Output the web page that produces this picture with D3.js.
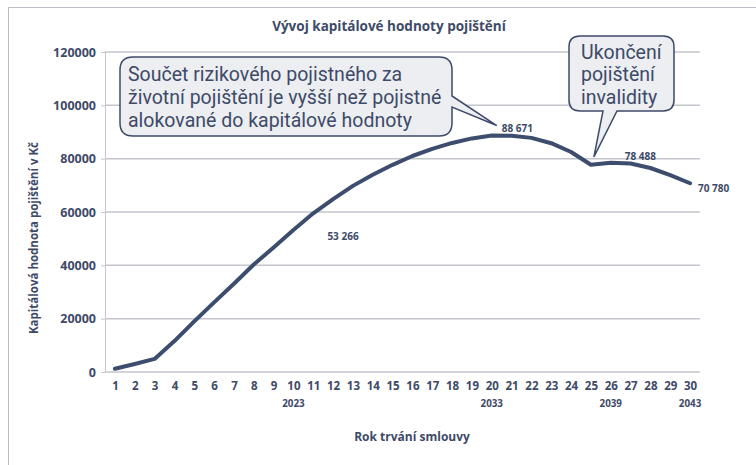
<!DOCTYPE html>
<html><head><meta charset="utf-8">
<script src="https://cdn.jsdelivr.net/npm/d3@7"></script>
<style>
html,body{margin:0;padding:0;background:#fff;}
svg text{font-family:"Open Sans","Noto Sans",sans-serif;fill:#3e4a68;}
svg text.callout{font-family:Roboto,"Open Sans",sans-serif;}
</style></head>
<body>
<script>
// ---- data ----
const years = [1,2,3,4,5,6,7,8,9,10,11,12,13,14,15,16,17,18,19,20,21,22,23,24,25,26,27,28,29,30];
const values = [1240,3000,4900,11600,19000,26100,33100,40300,46700,53266,59500,64800,69800,74000,77700,81000,83700,85900,87600,88671,88600,87800,85800,82500,77700,78488,78200,76500,73800,70780];
const yTicks = [0,20000,40000,60000,80000,100000,120000];
const calendarYears = [{year:10,label:"2023"},{year:20,label:"2033"},{year:26,label:"2039"},{year:30,label:"2043"}];
const labelledYears = [10,20,26,30];
const title = "Vývoj kapitálové hodnoty pojištění";
const yTitle = "Kapitálová hodnota pojištění v Kč";
const xTitle = "Rok trvání smlouvy";
const callout1 = ["Součet rizikového pojistného za","životní pojištění je vyšší než pojistné","alokované do kapitálové hodnoty"];
const callout2 = ["Ukončení","pojištění","invalidity"];

const W=756,H=465;
const C="#3e4a68";
const svg=d3.select("body").append("svg").attr("width",W).attr("height",H);

// frame
svg.append("rect").attr("x",8.5).attr("y",7.5).attr("width",800).attr("height",500)
  .attr("fill","none").attr("stroke","#b9bdc5").attr("stroke-width",1);

const x=d3.scalePoint().domain(years).range([105,700]).padding(0.5);
const y=d3.scaleLinear().domain([0,120000]).range([372,52]);

// gridlines
svg.append("g").selectAll("line").data(yTicks).join("line")
  .attr("x1",105).attr("x2",700).attr("y1",d=>y(d)).attr("y2",d=>y(d))
  .attr("stroke","#c3c6cd").attr("stroke-width",1.5);
// vertical axis line
svg.append("line").attr("x1",105.5).attr("x2",105.5).attr("y1",y(120000)).attr("y2",y(0))
  .attr("stroke","#c3c6cd").attr("stroke-width",1);

// y axis
const ya=svg.append("g").attr("transform","translate(105,0)")
  .call(d3.axisLeft(y).tickValues(yTicks).tickFormat(d=>String(d)).tickSize(4).tickPadding(5));
ya.select(".domain").remove();
ya.selectAll("line").attr("stroke","#c3c6cd");
ya.selectAll("text").attr("font-size","12.5px").attr("font-weight","bold").attr("fill",C).attr("font-family",null);

// x axis
const xa=svg.append("g").attr("transform","translate(0,372)")
  .call(d3.axisBottom(x).tickSize(0).tickPadding(10));
xa.select(".domain").remove();
xa.selectAll("text").attr("font-size","11.5px").attr("font-weight","bold").attr("fill",C).attr("font-family",null);

svg.append("g").selectAll("text").data(calendarYears).join("text")
  .attr("x",d=>x(d.year)).attr("y",407).attr("text-anchor","middle")
  .attr("font-size","9.8px").attr("font-weight","bold").text(d=>d.label);

// line
const pts=years.map((yr,i)=>({yr,v:values[i]}));
svg.append("path").datum(pts)
  .attr("d",d3.line().x(d=>x(d.yr)).y(d=>y(d.v)))
  .attr("fill","none").attr("stroke","#3d4d6d").attr("stroke-width",4)
  .attr("stroke-linejoin","round").attr("stroke-linecap","round");

// data labels (offsets from the point)
const lblOff={10:[34,7],20:[10,-7],26:[14,-6],30:[8,5]};
const fmt=v=>d3.format(",")(v).replace(/,/g," ");
svg.append("g").selectAll("text").data(labelledYears).join("text")
  .attr("x",d=>x(d)+lblOff[d][0]).attr("y",d=>y(values[years.indexOf(d)])+lblOff[d][1]+3.5)
  .attr("font-size","10px").attr("font-weight","bold").text(d=>fmt(values[years.indexOf(d)]));

// titles
svg.append("text").attr("x",389).attr("y",31).attr("text-anchor","middle")
  .attr("font-size","13.5px").attr("font-weight","bold").text(title);
svg.append("text").attr("x",412).attr("y",441).attr("text-anchor","middle")
  .attr("font-size","12px").attr("font-weight","bold").text(xTitle);
svg.append("text").attr("transform","translate(38,238) rotate(-90)").attr("text-anchor","middle")
  .attr("font-size","11.5px").attr("font-weight","bold").text(yTitle);

// callouts
function rr(x0,y0,x1,y1,r,ptr){
  let p=`M${x0+r},${y0}H${x1-r}Q${x1},${y0} ${x1},${y0+r}`;
  if(ptr.side==="right") p+=`V${ptr.a}L${ptr.tx},${ptr.ty}L${x1},${ptr.b}`;
  p+=`V${y1-r}Q${x1},${y1} ${x1-r},${y1}`;
  if(ptr.side==="bottom") p+=`H${ptr.b}L${ptr.tx},${ptr.ty}L${ptr.a},${y1}`;
  p+=`H${x0+r}Q${x0},${y1} ${x0},${y1-r}V${y0+r}Q${x0},${y0} ${x0+r},${y0}Z`;
  return p;
}
function multiline(lines,x0,y0,lh,fs){
  const t=svg.append("text").attr("class","callout").attr("x",x0).attr("y",y0).attr("font-size",fs+"px");
  t.selectAll("tspan").data(lines).join("tspan")
    .attr("x",x0).attr("dy",(d,i)=>i===0?0:lh).text(d=>d);
}
const tip1=[x(20)+5,y(values[19])-10];
svg.append("path").attr("d",rr(120,57,452,136,13,{side:"right",a:96,b:107,tx:tip1[0],ty:tip1[1]}))
  .attr("fill","#eceef1").attr("stroke",C).attr("stroke-width",1.5);
multiline(callout1,128,81,22.9,19.5);

const tip2=[x(25)+3,y(values[24])-8];
svg.append("path").attr("d",rr(569,36,674,111,11,{side:"bottom",a:603,b:617,tx:tip2[0],ty:tip2[1]}))
  .attr("fill","#eceef1").attr("stroke",C).attr("stroke-width",1.5);
multiline(callout2,581,58.5,22.9,19.5);
</script>
</body></html>
